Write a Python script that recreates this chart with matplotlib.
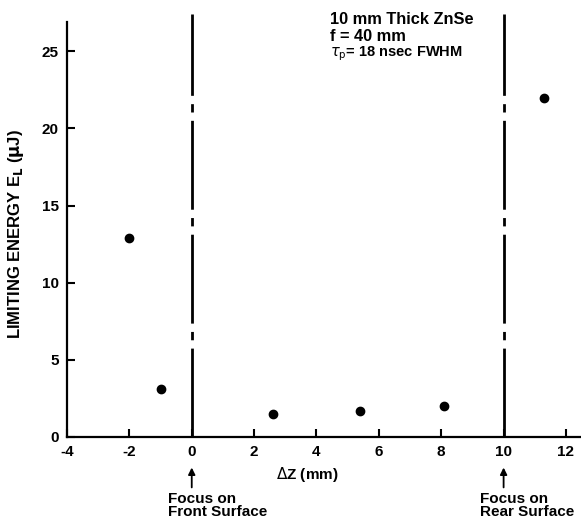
import matplotlib
matplotlib.use("Agg")
import matplotlib.pyplot as plt

plt.rcParams["font.family"] = ["Liberation Sans", "DejaVu Sans"]
plt.rcParams["axes.unicode_minus"] = False
plt.rcParams["lines.scale_dashes"] = False

# limiting energy vs. focal position in the sample
dz_mm = [-2.0, -1.0, 2.6, 5.4, 8.1, 11.3]
e_limit_uj = [12.9, 3.1, 1.5, 1.7, 2.0, 22.0]

surface_z = [0, 10]
surface_labels = ["Focus on\nFront Surface", "Focus on\nRear Surface"]
x_ticks = [-4, -2, 0, 2, 4, 6, 8, 10, 12]
y_ticks = [0, 5, 10, 15, 20, 25]

fig = plt.figure(figsize=(5.81, 5.18), dpi=100)
ax = fig.add_axes([0.1153, 0.1564, 0.883, 0.801])

ax.plot(dz_mm, e_limit_uj, "o", color="black", ms=6, clip_on=False)

# front/rear surface markers, drawn above the plot frame
for z in surface_z:
    ax.plot([z, z], [0, 27.45], color="black", lw=2.0, clip_on=False,
            dashes=(64, 6, 6, 6))

ax.set_xlim(-4, 12.45)
ax.set_ylim(0, 26.9)
ax.set_xticks(x_ticks)
ax.set_yticks(y_ticks)
for s in ("top", "right"):
    ax.spines[s].set_visible(False)
for s in ("left", "bottom"):
    ax.spines[s].set_linewidth(1.6)
ax.tick_params(direction="in", length=6, width=1.5, labelsize=11, pad=6)
for lab in ax.get_xticklabels() + ax.get_yticklabels():
    lab.set_fontweight("bold")

ax.set_xlabel(r"$\Delta$Z (mm)", fontsize=11, fontweight="bold")
ax.xaxis.set_label_coords(0.468, -0.067)
ax.set_ylabel(r"LIMITING ENERGY E$_\mathbf{L}$ ($\mathbf{\mu}$J)", fontsize=12,
              fontweight="bold")
ax.yaxis.set_label_coords(-0.08, 0.49)

# sample / focusing conditions
ax.text(0.513, 1.005, "10 mm Thick ZnSe", transform=ax.transAxes,
        ha="left", va="center", fontsize=11.8, fontweight="bold")
ax.text(0.513, 0.965, "f = 40 mm", transform=ax.transAxes,
        ha="left", va="center", fontsize=11.8, fontweight="bold")
ax.text(0.513, 0.924, r"$\tau_\mathrm{p}$= 18 nsec FWHM", transform=ax.transAxes,
        ha="left", va="center", fontsize=10.5, fontweight="bold")

for z, lab in zip(surface_z, surface_labels):
    ax.annotate("", xy=(z, -1.8), xytext=(z, -3.45), xycoords="data",
                annotation_clip=False,
                arrowprops=dict(arrowstyle="-|>", color="black", lw=1.3,
                                mutation_scale=10))
    ax.text(z - 0.75, -3.55, lab, ha="left", va="top", fontsize=11,
            fontweight="bold", linespacing=0.9, clip_on=False)

fig.savefig("out.png", dpi=100)
